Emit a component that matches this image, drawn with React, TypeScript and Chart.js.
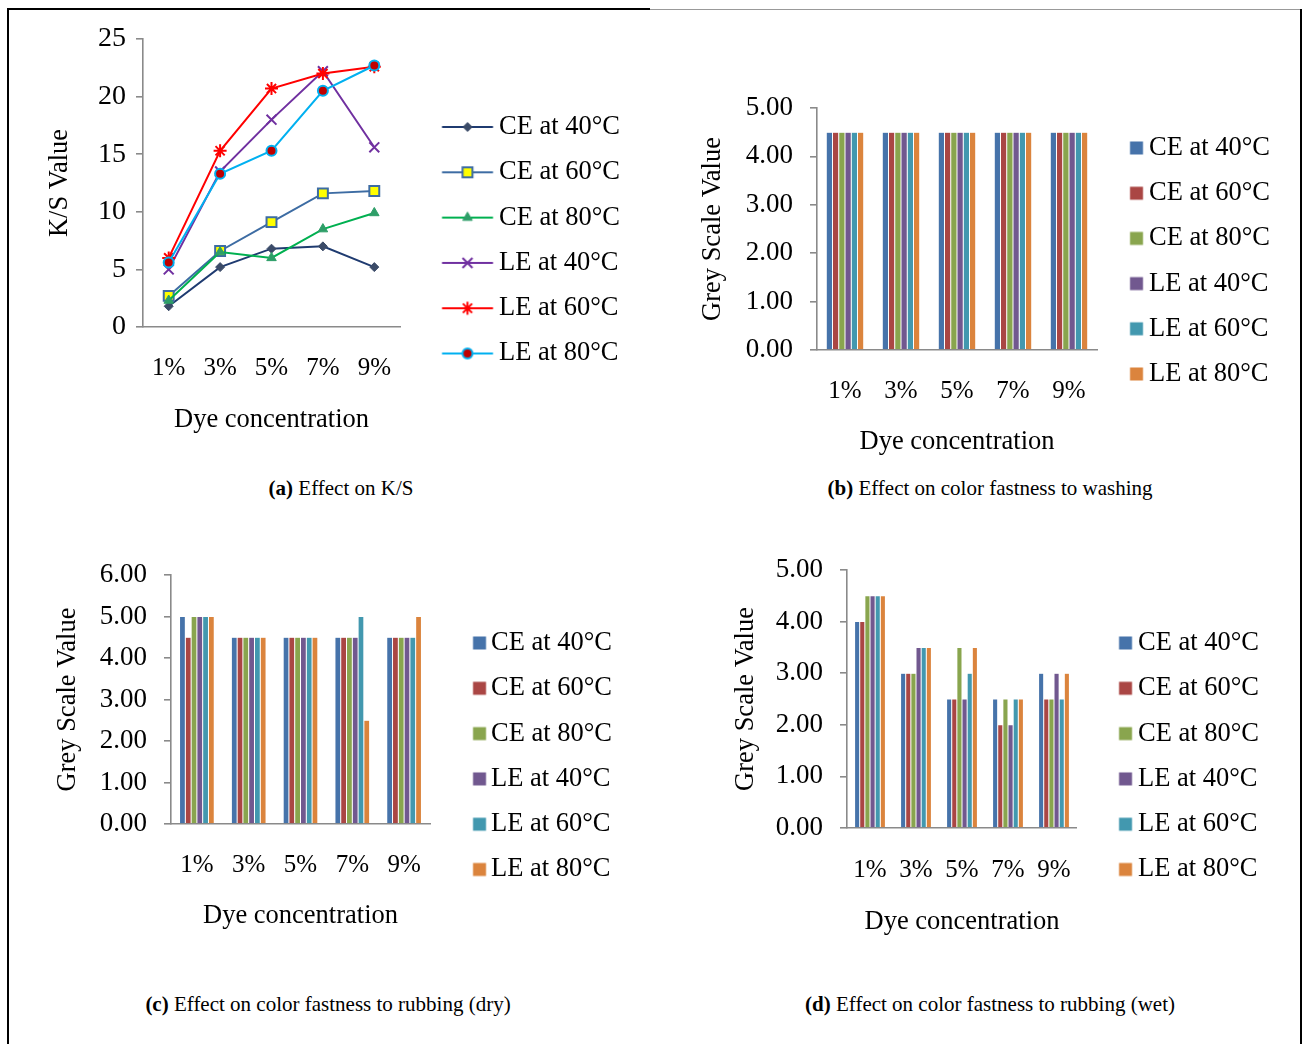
import React, { useEffect, useRef } from 'react';
import { Chart, registerables } from 'chart.js';

Chart.register(...registerables);

const FONT = "'Liberation Serif', 'Times New Roman', serif";

// ---------------- data ----------------
const categories = ['1%', '3%', '5%', '7%', '9%'];
const seriesNames = ['CE at 40°C', 'CE at 60°C', 'CE at 80°C', 'LE at 40°C', 'LE at 60°C', 'LE at 80°C'];
const xAxisTitle = 'Dye concentration';
const ksAxisTitle = 'K/S Value';
const greyAxisTitle = 'Grey Scale Value';

// (a) K/S values
const ksCE40 = [1.8, 5.2, 6.8, 7.0, 5.2];
const ksCE60 = [2.7, 6.6, 9.1, 11.6, 11.8];
const ksCE80 = [2.3, 6.5, 6.0, 8.5, 9.9];
const ksLE40 = [5.0, 13.5, 18.0, 22.2, 15.6];
const ksLE60 = [6.0, 15.3, 20.7, 22.0, 22.6];
const ksLE80 = [5.6, 13.3, 15.3, 20.5, 22.7];

// (b) washing fastness
const washCE40 = [4.5, 4.5, 4.5, 4.5, 4.5];
const washCE60 = [4.5, 4.5, 4.5, 4.5, 4.5];
const washCE80 = [4.5, 4.5, 4.5, 4.5, 4.5];
const washLE40 = [4.5, 4.5, 4.5, 4.5, 4.5];
const washLE60 = [4.5, 4.5, 4.5, 4.5, 4.5];
const washLE80 = [4.5, 4.5, 4.5, 4.5, 4.5];

// (c) rubbing (dry)
const dryCE40 = [5.0, 4.5, 4.5, 4.5, 4.5];
const dryCE60 = [4.5, 4.5, 4.5, 4.5, 4.5];
const dryCE80 = [5.0, 4.5, 4.5, 4.5, 4.5];
const dryLE40 = [5.0, 4.5, 4.5, 4.5, 4.5];
const dryLE60 = [5.0, 4.5, 4.5, 5.0, 4.5];
const dryLE80 = [5.0, 4.5, 4.5, 2.5, 5.0];

// (d) rubbing (wet)
const wetCE40 = [4.0, 3.0, 2.5, 2.5, 3.0];
const wetCE60 = [4.0, 3.0, 2.5, 2.0, 2.5];
const wetCE80 = [4.5, 3.0, 3.5, 2.5, 2.5];
const wetLE40 = [4.5, 3.5, 2.5, 2.0, 3.0];
const wetLE60 = [4.5, 3.5, 3.0, 2.5, 2.5];
const wetLE80 = [4.5, 3.5, 3.5, 2.5, 3.0];

// y-axis tick ranges
const ksTicks = { min: 0, max: 25, step: 5 };
const washTicks = { min: 0, max: 5, step: 1 };
const dryTicks = { min: 0, max: 6, step: 1 };
const wetTicks = { min: 0, max: 5, step: 1 };

const captions = [
  { tag: '(a)', text: ' Effect on K/S' },
  { tag: '(b)', text: ' Effect on color fastness to washing' },
  { tag: '(c)', text: ' Effect on color fastness to rubbing (dry)' },
  { tag: '(d)', text: ' Effect on color fastness to rubbing (wet)' },
];

// ---------------- styles ----------------
const AXIS = '#8a8a8a';
const FS = 26.5; // legend / title font size
const barColors = ['#4673AA', '#AA4644', '#89A54E', '#71588F', '#4298AF', '#DB843D'];

type Marker = { style: string; radius: number; fill: string; stroke: string; width: number };
const lineStyles: { line: string; marker: Marker }[] = [
  { line: '#1F3B70', marker: { style: 'rectRot', radius: 4.5, fill: '#3B4B68', stroke: '#3B4B68', width: 1 } },
  { line: '#3D6CA3', marker: { style: 'rect', radius: 7, fill: '#FFFF00', stroke: '#3D6CA3', width: 2 } },
  { line: '#00B050', marker: { style: 'triangle', radius: 5.5, fill: '#2E9E68', stroke: '#2E9E68', width: 1 } },
  { line: '#7030A0', marker: { style: 'crossRot', radius: 7, fill: '#7030A0', stroke: '#7030A0', width: 2 } },
  { line: '#FF0000', marker: { style: 'star', radius: 6.5, fill: '#FF0000', stroke: '#FF0000', width: 2 } },
  { line: '#00B0F0', marker: { style: 'circle', radius: 5, fill: '#C00000', stroke: '#00B0F0', width: 2 } },
];

interface Layout {
  cx: number; cy: number; w: number; h: number;
  plotL: number; plotR: number; plotT: number; plotB: number;
  xAxisH: number; xTickPad: number; xTitlePad: number;
  yTickPad: number; yTitlePad: number; yTickSize: number;
  legendPad: number; legendTextX: number; markerL: number; markerR: number;
  capX: number; capY: number;
}

const layoutA: Layout = { cx: 20, cy: -1, w: 620, h: 450, plotL: 143, plotR: 400, plotT: 39, plotB: 327, xAxisH: 114.5, xTickPad: 18, xTitlePad: 5.6, yTickPad: 10, yTitlePad: 24, yTickSize: 28, legendPad: 18.8, legendTextX: 499, markerL: 442, markerR: 493, capX: 341, capY: 488 };
const layoutB: Layout = { cx: 680, cy: 68, w: 620, h: 397, plotL: 817, plotR: 1097, plotT: 108, plotB: 350, xAxisH: 64, xTickPad: 18, xTitlePad: -43.9, yTickPad: 17, yTitlePad: 17, yTickSize: 27, legendPad: 18.7, legendTextX: 1149, markerL: 1130, markerR: 1143, capX: 990, capY: 488 };
const layoutC: Layout = { cx: 20, cy: 535, w: 620, h: 410, plotL: 171, plotR: 430, plotT: 575, plotB: 824, xAxisH: 113.5, xTickPad: 18, xTitlePad: 5.6, yTickPad: 17, yTitlePad: 32, yTickSize: 27, legendPad: 18.8, legendTextX: 491, markerL: 473, markerR: 486, capX: 328, capY: 1004 };
const layoutD: Layout = { cx: 680, cy: 530, w: 620, h: 420, plotL: 847, plotR: 1077, plotT: 570, plotB: 828, xAxisH: 114.5, xTickPad: 19, xTitlePad: 4.6, yTickPad: 17, yTitlePad: 50, yTickSize: 27, legendPad: 18.8, legendTextX: 1138, markerL: 1119, markerR: 1132, capX: 990, capY: 1004 };

// ---------------- helpers ----------------
function drawMarker(ctx: CanvasRenderingContext2D, m: Marker, x: number, y: number) {
  const r = m.radius;
  ctx.save();
  ctx.fillStyle = m.fill;
  ctx.strokeStyle = m.stroke;
  ctx.lineWidth = m.width;
  ctx.beginPath();
  const d = r * Math.SQRT1_2;
  switch (m.style) {
    case 'rectRot':
      ctx.moveTo(x, y - r); ctx.lineTo(x + r, y); ctx.lineTo(x, y + r); ctx.lineTo(x - r, y); ctx.closePath();
      ctx.fill(); ctx.stroke(); break;
    case 'rect':
      ctx.rect(x - d, y - d, 2 * d, 2 * d); ctx.fill(); ctx.stroke(); break;
    case 'triangle':
      ctx.moveTo(x, y - r); ctx.lineTo(x + 0.866 * r, y + 0.5 * r); ctx.lineTo(x - 0.866 * r, y + 0.5 * r); ctx.closePath();
      ctx.fill(); ctx.stroke(); break;
    case 'circle':
      ctx.arc(x, y, r, 0, Math.PI * 2); ctx.fill(); ctx.stroke(); break;
    case 'crossRot':
      ctx.moveTo(x - d, y - d); ctx.lineTo(x + d, y + d); ctx.moveTo(x - d, y + d); ctx.lineTo(x + d, y - d); ctx.stroke(); break;
    case 'star':
      ctx.moveTo(x - d, y - d); ctx.lineTo(x + d, y + d); ctx.moveTo(x - d, y + d); ctx.lineTo(x + d, y - d);
      ctx.moveTo(x, y - r); ctx.lineTo(x, y + r); ctx.moveTo(x - r, y); ctx.lineTo(x + r, y); ctx.stroke(); break;
  }
  ctx.restore();
}

function maxLabelWidth() {
  const c = document.createElement('canvas');
  const ctx = c.getContext('2d')!;
  ctx.font = `normal ${FS}px ${FONT}`;
  return Math.max(...seriesNames.map((s) => ctx.measureText(s).width));
}

// geometry of legend entries: the marker image is centred by Chart.js in a box of width markerBox
function legendGeom(l: Layout) {
  const itemX = l.plotR + l.legendPad;
  const markerBox = l.legendTextX - FS / 2 - itemX;
  const centre = itemX + markerBox / 2;
  const half = Math.ceil(Math.max(centre - l.markerL, l.markerR - centre)) + 1;
  const imgW = half * 2;
  const imgLeft = centre - half;
  const legendW = l.legendPad + markerBox + FS / 2 + maxLabelWidth() + 10;
  return { markerBox, imgW, x0: l.markerL - imgLeft, x1: l.markerR - imgLeft, legendW };
}

function makeImage(w: number, h: number, draw: (ctx: CanvasRenderingContext2D) => void) {
  const c = document.createElement('canvas');
  c.width = w; c.height = h;
  const ctx = c.getContext('2d')!;
  draw(ctx);
  return c;
}

function baseOptions(l: Layout, yTitle: string, ticks: { min: number; max: number; step: number }, fmt: (v: number) => string, images: HTMLCanvasElement[]) {
  const g = legendGeom(l);
  return {
    responsive: false,
    animation: false,
    layout: {
      padding: {
        left: 0,
        top: l.plotT - l.cy,
        right: l.cx + l.w - (l.plotR + g.legendW),
        bottom: l.cy + l.h - (l.plotB + l.xAxisH),
      },
    },
    plugins: {
      tooltip: { enabled: false },
      legend: {
        position: 'right',
        align: 'center',
        maxWidth: g.legendW + 200,
        labels: {
          usePointStyle: true,
          pointStyleWidth: g.markerBox,
          padding: l.legendPad,
          color: '#000',
          font: { family: FONT, size: FS },
          generateLabels: () =>
            seriesNames.map((name, i) => ({
              text: name,
              pointStyle: images[i],
              fillStyle: 'transparent',
              strokeStyle: 'transparent',
              lineWidth: 0,
              hidden: false,
              datasetIndex: i,
              fontColor: '#000',
            })),
        },
      },
    },
    scales: {
      x: {
        offset: true,
        grid: { display: false },
        border: { display: true, color: AXIS, width: 1.6 },
        ticks: { color: '#000', font: { family: FONT, size: 25 }, padding: l.xTickPad, maxRotation: 0 },
        title: { display: true, text: xAxisTitle, color: '#000', font: { family: FONT, size: FS }, padding: { top: 0, bottom: l.xTitlePad } },
        afterFit: (s: any) => { s.height = l.xAxisH; },
      },
      y: {
        min: ticks.min,
        max: ticks.max,
        ticks: { stepSize: ticks.step, color: '#000', font: { family: FONT, size: l.yTickSize }, padding: l.yTickPad, callback: (v: any) => fmt(Number(v)) },
        grid: { drawOnChartArea: false, drawTicks: true, tickLength: 7, color: AXIS, lineWidth: 1.6 },
        border: { display: true, color: AXIS, width: 1.6 },
        title: { display: true, text: yTitle, color: '#000', font: { family: FONT, size: FS }, padding: { top: l.yTitlePad, bottom: 0 } },
        afterFit: (s: any) => { s.width = l.plotL - l.cx; },
      },
    },
  };
}

function buildLine(l: Layout) {
  const g = legendGeom(l);
  const series = [ksCE40, ksCE60, ksCE80, ksLE40, ksLE60, ksLE80];
  const images = lineStyles.map((st) =>
    makeImage(g.imgW, 20, (ctx) => {
      ctx.strokeStyle = st.line;
      ctx.lineWidth = 2;
      ctx.beginPath(); ctx.moveTo(g.x0, 10); ctx.lineTo(g.x1, 10); ctx.stroke();
      drawMarker(ctx, st.marker, (g.x0 + g.x1) / 2, 10);
    })
  );
  return {
    type: 'line',
    data: {
      labels: categories,
      datasets: series.map((d, i) => ({
        label: seriesNames[i],
        data: d,
        order: series.length - i,
        borderColor: lineStyles[i].line,
        backgroundColor: lineStyles[i].marker.fill,
        borderWidth: 2,
        tension: 0,
        pointStyle: lineStyles[i].marker.style,
        pointRadius: lineStyles[i].marker.radius,
        pointBackgroundColor: lineStyles[i].marker.fill,
        pointBorderColor: lineStyles[i].marker.stroke,
        pointBorderWidth: lineStyles[i].marker.width,
      })),
    },
    options: baseOptions(l, ksAxisTitle, ksTicks, (v) => String(v), images),
  };
}

function buildBar(l: Layout, series: number[][], ticks: { min: number; max: number; step: number }) {
  const g = legendGeom(l);
  const images = barColors.map((c) =>
    makeImage(g.imgW, 20, (ctx) => {
      ctx.fillStyle = c;
      ctx.fillRect(g.x0, 10 - (g.x1 - g.x0) / 2, g.x1 - g.x0, g.x1 - g.x0);
    })
  );
  return {
    type: 'bar',
    data: {
      labels: categories,
      datasets: series.map((d, i) => ({
        label: seriesNames[i],
        data: d,
        backgroundColor: barColors[i],
        borderColor: 'rgba(255,255,255,0.25)',
        borderWidth: 0.5,
        categoryPercentage: 0.67,
        barPercentage: 1.0,
      })),
    },
    options: baseOptions(l, greyAxisTitle, ticks, (v) => v.toFixed(2), images),
  };
}

function Panel({ layout, build }: { layout: Layout; build: (l: Layout) => any }) {
  const ref = useRef<HTMLCanvasElement>(null);
  useEffect(() => {
    const chart = new Chart(ref.current as HTMLCanvasElement, build(layout));
    return () => chart.destroy();
  }, []);
  return (
    <canvas
      ref={ref}
      width={layout.w}
      height={layout.h}
      style={{ position: 'absolute', left: layout.cx, top: layout.cy, width: layout.w, height: layout.h }}
    />
  );
}

function Caption({ l, i }: { l: Layout; i: number }) {
  return (
    <div
      style={{
        position: 'absolute', left: l.capX - 300, top: l.capY - 13, width: 600, textAlign: 'center',
        fontFamily: FONT, fontSize: 21, lineHeight: '26px', color: '#000', whiteSpace: 'nowrap',
      }}
    >
      <b>{captions[i].tag}</b>{captions[i].text}
    </div>
  );
}

export default function App() {
  return (
    <div style={{ position: 'absolute', left: 0, top: 0, width: 1306, height: 1044, background: '#fff', overflow: 'hidden' }}>
      <div style={{ position: 'absolute', left: 7, top: 8, width: 2, height: 1036, background: '#000' }} />
      <div style={{ position: 'absolute', left: 7, top: 8, width: 643, height: 2, background: '#000' }} />
      <div style={{ position: 'absolute', left: 650, top: 9, width: 651, height: 1, background: '#999' }} />
      <div style={{ position: 'absolute', left: 1300, top: 9, width: 2, height: 1035, background: '#000' }} />
      <Panel layout={layoutA} build={buildLine} />
      <Panel layout={layoutB} build={(l) => buildBar(l, [washCE40, washCE60, washCE80, washLE40, washLE60, washLE80], washTicks)} />
      <Panel layout={layoutC} build={(l) => buildBar(l, [dryCE40, dryCE60, dryCE80, dryLE40, dryLE60, dryLE80], dryTicks)} />
      <Panel layout={layoutD} build={(l) => buildBar(l, [wetCE40, wetCE60, wetCE80, wetLE40, wetLE60, wetLE80], wetTicks)} />
      <Caption l={layoutA} i={0} />
      <Caption l={layoutB} i={1} />
      <Caption l={layoutC} i={2} />
      <Caption l={layoutD} i={3} />
    </div>
  );
}
